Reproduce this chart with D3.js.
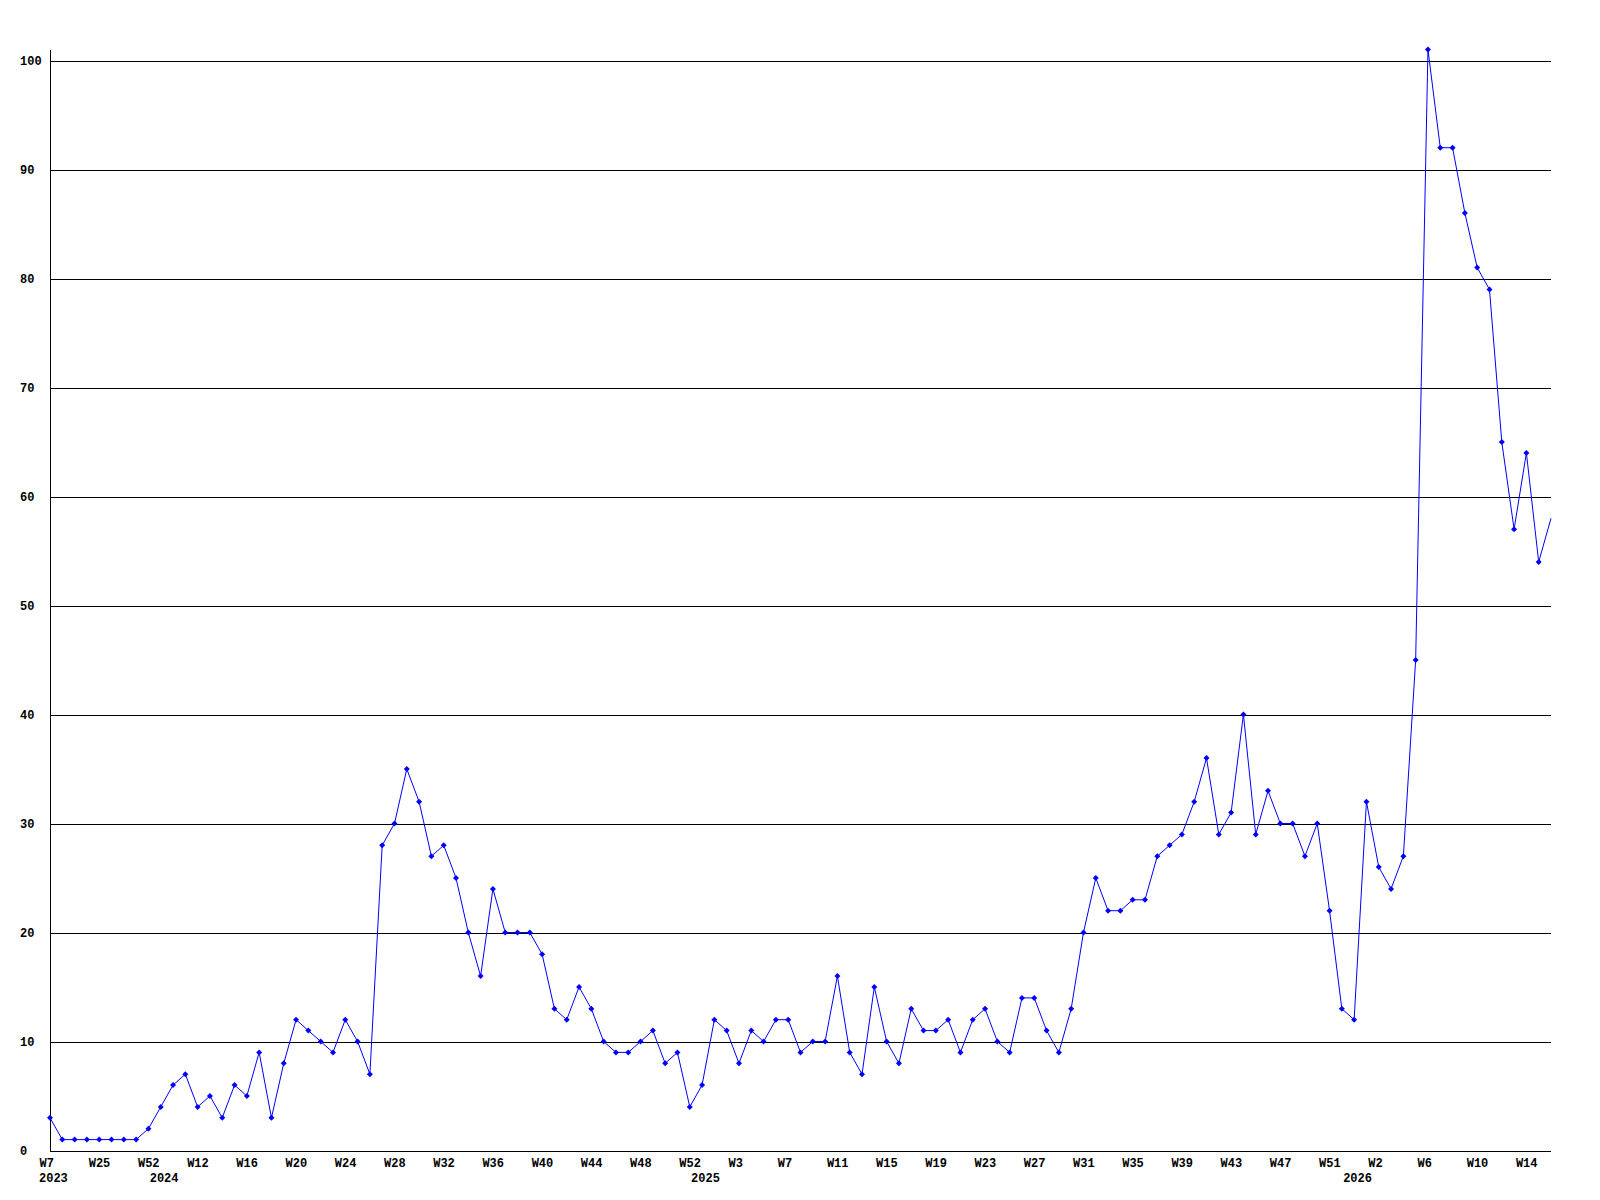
<!DOCTYPE html>
<html>
<head>
<meta charset="utf-8">
<script src="https://cdn.jsdelivr.net/npm/d3@7"></script>
<style>
  body { margin: 0; background: #fff; }
  text { font-family: "Liberation Mono", "DejaVu Sans Mono", monospace; font-weight: bold; font-size: 12px; fill: #000; }
</style>
</head>
<body>
<div id="chart"></div>
<script>
// weekly counts, first point is W7 2023
const values = [
  3, 1, 1, 1, 1, 1, 1, 1, 2, 4, 6, 7, 4, 5, 3, 6, 5, 9, 3, 8,
  12, 11, 10, 9, 12, 10, 7, 28, 30, 35, 32, 27, 28, 25, 20, 16, 24, 20, 20, 20,
  18, 13, 12, 15, 13, 10, 9, 9, 10, 11, 8, 9, 4, 6, 12, 11, 8, 11, 10, 12,
  12, 9, 10, 10, 16, 9, 7, 15, 10, 8, 13, 11, 11, 12, 9, 12, 13, 10, 9, 14,
  14, 11, 9, 13, 20, 25, 22, 22, 23, 23, 27, 28, 29, 32, 36, 29, 31, 40, 29, 33,
  30, 30, 27, 30, 22, 13, 12, 32, 26, 24, 27, 45, 101, 92, 92, 86, 81, 79, 65, 57,
  64, 54, 58
];

// one label every 4 points
const weekLabels = ["W7", "W25", "W52", "W12", "W16", "W20", "W24", "W28", "W32", "W36",
  "W40", "W44", "W48", "W52", "W3", "W7", "W11", "W15", "W19", "W23",
  "W27", "W31", "W35", "W39", "W43", "W47", "W51", "W2", "W6", "W10", "W14"];
const labelEvery = 4;

const years = ["2023", "2024", "2025", "2026"];
const yearStart = [0, 9, 53, 106];

const yTicks = [0, 10, 20, 30, 40, 50, 60, 70, 80, 90, 100];

const width = 1600;
const height = 1200;
const plotLeft = 50;
const plotRight = 1551;
const plotBottom = 1150.5;
const plotTop = 49.6;

const svg = d3.select('#chart')
  .append('svg')
  .attr('width', width)
  .attr('height', height)
  .style('background', '#fff')

const xScale = d3.scaleLinear()
  .domain([0, values.length - 1])
  .range([plotLeft, plotRight])

const yScale = d3.scaleLinear()
  .domain([0, d3.max(values)])
  .range([plotBottom, plotTop])

// horizontal grid + y labels
const yAxis = d3.axisLeft(yScale)
  .tickValues(yTicks)
  .tickSize(-(plotRight - plotLeft))
  .tickPadding(0)
  .tickFormat(d3.format('d'))

const gy = svg.append('g')
  .attr('transform', `translate(${plotLeft}, 0)`)
  .call(yAxis)
  .attr('font-family', null)
  .attr('font-size', null)

gy.select('.domain').remove()
gy.selectAll('line')
  .attr('stroke', '#000')
  .attr('shape-rendering', 'crispEdges')
gy.selectAll('text')
  .attr('text-anchor', 'start')
  .attr('x', 20 - plotLeft)
  .attr('dy', null)
  .attr('y', 4)

// vertical axis line
svg.append('line')
  .attr('x1', plotLeft).attr('x2', plotLeft)
  .attr('y1', yScale(d3.max(values)))
  .attr('y2', yScale(0))
  .attr('stroke', '#000')
  .attr('shape-rendering', 'crispEdges')

// x labels
const tickIdx = weekLabels.map((d, i) => i * labelEvery);

const xAxis = d3.axisBottom(xScale)
  .tickValues(tickIdx)
  .tickSize(0)
  .tickPadding(0)
  .tickFormat((d, i) => weekLabels[i])

const gx = svg.append('g')
  .attr('transform', `translate(0, ${yScale(0)})`)
  .call(xAxis)
  .attr('font-family', null)
  .attr('font-size', null)

gx.select('.domain').remove()
gx.selectAll('text')
  .attr('text-anchor', 'start')
  .attr('x', -11)
  .attr('dy', null)
  .attr('y', 16.5)

svg.append('g')
  .selectAll('text')
  .data(years)
  .enter()
  .append('text')
  .attr('x', (d, i) => xScale(yearStart[i]) - 11)
  .attr('y', yScale(0) + 31.5)
  .text(d => d)

// series
const line = d3.line()
  .x((d, i) => xScale(i))
  .y(d => yScale(d))

svg.append('path')
  .datum(values)
  .attr('d', line)
  .attr('fill', 'none')
  .attr('stroke', '#0000ff')
  .attr('stroke-width', 1)

// last (current) week has no marker
svg.append('g')
  .selectAll('path')
  .data(values.slice(0, -1))
  .enter()
  .append('path')
  .attr('d', 'M0,-3L3,0L0,3L-3,0Z')
  .attr('transform', (d, i) => `translate(${xScale(i)}, ${yScale(d)})`)
  .attr('fill', '#0000ff')
</script>
</body>
</html>
